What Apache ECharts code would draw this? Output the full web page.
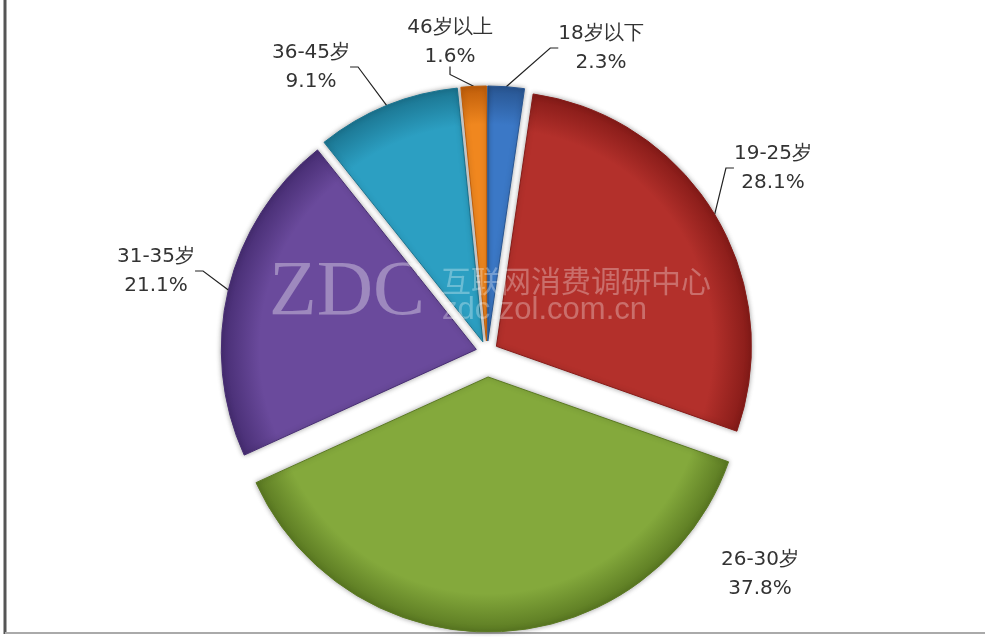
<!DOCTYPE html>
<html>
<head>
<meta charset="utf-8">
<title>年龄分布</title>
<script src="https://cdn.jsdelivr.net/npm/echarts@6/dist/echarts.min.js"></script>
<style>
  html, body { margin: 0; padding: 0; background: #fff; }
  #chart { width: 985px; height: 637px; }
</style>
</head>
<body>
<div id="chart"></div>
<script>
// 年龄段
const ageGroups = ['18岁以下', '19-25岁', '26-30岁', '31-35岁', '36-45岁', '46岁以上']
// 占比 (%)
const shares = [2.3, 28.1, 37.8, 21.1, 9.1, 1.6]

const sliceColors = ['#3b78c6', '#b3302b', '#84a93c', '#6a4a9c', '#2c9fc2', '#f0871f']
const rimColors = ['#285591', '#861b18', '#5b7a22', '#472d73', '#1b7591', '#bf5d0a']
// how far each slice is pulled out of the pie
const explode = [11, 11, 25, 11, 11, 11]
// label block centres
const labelPos = [[601, 48], [773, 168], [760, 574], [156, 271], [311, 67], [450, 42]]

const CX = 487
const CY = 352
const R = 255

const total = shares.reduce((a, b) => a + b, 0)

function sliceStyle(i, cx, cy) {
  return {
    color: {
      type: 'radial', x: cx, y: cy, r: R, global: true,
      colorStops: [
        { offset: 0, color: sliceColors[i] },
        { offset: 0.85, color: sliceColors[i] },
        { offset: 1, color: rimColors[i] }
      ]
    },
    borderColor: rimColors[i],
    borderWidth: 1,
    shadowBlur: 5,
    shadowColor: 'rgba(0,0,0,0.35)'
  }
}

// one pie per slice, each one shifted out along the slice's middle angle
function sliceSeries(k) {
  let before = 0
  for (let j = 0; j < k; j++) before += shares[j]
  const mid = (before + shares[k] / 2) / total * Math.PI * 2
  const cx = CX + explode[k] * Math.sin(mid)
  const cy = CY - explode[k] * Math.cos(mid)
  return {
    type: 'pie',
    center: [cx, cy],
    radius: R,
    startAngle: 90,
    clockwise: true,
    animation: false,
    emphasis: { disabled: true },
    label: {
      position: 'outer',
      formatter: p => '{t|' + p.name + '}\n{t|' + p.value.toFixed(1) + '%}',
      rich: {
        t: { fontFamily: 'DejaVu Sans', fontSize: 20, lineHeight: 29, color: '#333', align: 'center' }
      }
    },
    labelLine: {
      length: 20,
      length2: 8,
      lineStyle: { color: '#222', width: 1.2 }
    },
    labelLayout: p => ({
      x: labelPos[p.dataIndex][0],
      y: labelPos[p.dataIndex][1],
      align: 'center',
      verticalAlign: 'middle'
    }),
    data: ageGroups.map((name, i) => ({
      name: name,
      value: shares[i],
      itemStyle: i === k ? sliceStyle(i, cx, cy) : { color: 'rgba(0,0,0,0)', borderWidth: 0, shadowBlur: 0 },
      label: { show: i === k },
      labelLine: { show: i === k && k !== 2 }
    }))
  }
}

const chart = echarts.init(document.getElementById('chart'))
chart.setOption({
  backgroundColor: '#fff',
  animation: false,
  series: ageGroups.map((n, k) => sliceSeries(k)),
  graphic: [
    {
      type: 'text', left: 269, top: 255, z: 100, silent: true,
      style: { text: 'ZDC', font: '78px "Liberation Serif"', fill: 'rgba(255,255,255,0.35)' }
    },
    {
      type: 'text', left: 441, top: 266, z: 100, silent: true,
      style: { text: '互联网消费调研中心', font: '30px "Noto Sans CJK SC"', fill: 'rgba(255,255,255,0.3)' }
    },
    {
      type: 'text', left: 442, top: 295, z: 100, silent: true,
      style: { text: 'zdc.zol.com.cn', font: '31px "Liberation Sans"', fill: 'rgba(255,255,255,0.3)' }
    },
    {
      type: 'line', silent: true,
      shape: { x1: 5, y1: 0, x2: 5, y2: 634 },
      style: { stroke: '#555', lineWidth: 3 }
    },
    {
      type: 'line', silent: true,
      shape: { x1: 5, y1: 633, x2: 985, y2: 633 },
      style: { stroke: '#aaa', lineWidth: 2 }
    }
  ]
})
</script>
</body>
</html>
